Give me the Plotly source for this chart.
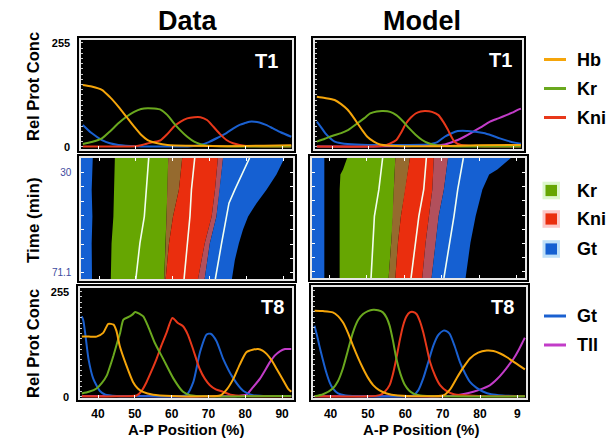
import plotly.graph_objects as go

# ---------------- data ----------------
GENE_COLORS = {"Hb": "#f5a50a", "Kr": "#6aa81e", "Kni": "#e8381a", "Gt": "#1a60d0", "Tll": "#c23cc8"}

# Top row: T1 profiles (A-P position %, relative protein concentration 0-255)
d1_hb_x = [35.6, 38, 40.8, 43, 45.3, 47.5, 49.6, 51.5, 53.3, 56, 58.7, 65, 75, 85, 92.5]
d1_hb_y = [152, 148, 140, 122, 99, 74, 50, 30, 17, 9, 5, 3, 2, 3, 4]
d1_kr_x = [35.6, 38, 40.8, 43, 45.3, 47.5, 49.6, 51.5, 53.3, 55, 56.9, 58.7, 60.5, 62.3, 64.1, 66, 67.7, 70, 80, 92.5]
d1_kr_y = [7, 12, 21, 38, 58, 74, 86, 93, 95, 94, 91, 78, 58, 40, 25, 13, 7, 3, 1, 1]
d1_kni_x = [35.6, 45, 50, 51.5, 53, 55, 56.9, 58.7, 60.5, 62.3, 64.1, 66, 67.7, 69.5, 71.2, 73, 74.8, 76.6, 78.4, 81, 92.5]
d1_kni_y = [1, 1, 2, 4, 8, 12, 17, 32, 50, 62, 70, 73, 73, 66, 50, 32, 17, 9, 5, 2, 1]
d1_gt_x = [35.6, 38, 40.8, 43, 45.3, 50, 60, 65, 67.7, 70, 72.5, 74.8, 76.6, 78.4, 80, 81.1, 82.5, 83.8, 85.6, 87.4, 89.6, 92.5]
d1_gt_y = [54, 34, 17, 9, 5, 2, 1, 2, 5, 12, 23, 34, 45, 54, 59, 62, 62, 60, 54, 46, 36, 25]

m1_hb_x = [35.8, 38, 40.7, 42.5, 44.3, 45.7, 47, 48.4, 49.7, 51.5, 53.2, 56, 60, 70, 80, 92]
m1_hb_y = [123, 120, 115, 105, 91, 75, 58, 40, 25, 13, 6, 3, 2, 2, 4, 5]
m1_kr_x = [35.8, 38, 40, 42.5, 44.5, 47, 48.8, 50.5, 52.3, 54.1, 56, 57.7, 59.5, 61.2, 63, 64.8, 66.6, 68.4, 72, 92]
m1_kr_y = [13, 20, 27, 34, 42, 58, 70, 82, 87, 88, 86, 78, 63, 46, 30, 17, 9, 5, 2, 1]
m1_kni_x = [35.8, 50, 54.1, 55.9, 57.7, 59, 60.4, 61.7, 63, 64.4, 65.7, 67.5, 69.3, 70.6, 71.9, 72.8, 73.7, 75.5, 80, 92]
m1_kni_y = [1, 1, 3, 8, 17, 35, 58, 72, 82, 87, 88, 86, 78, 62, 42, 26, 13, 5, 2, 1]
m1_gt_x = [35.8, 37, 38.1, 39.4, 40.7, 42.5, 44.3, 50, 60, 66, 69, 71, 72.8, 74.6, 76, 77.3, 79.5, 81.7, 84, 86.2, 88.4, 90.6, 92]
m1_gt_y = [62, 48, 34, 22, 13, 9, 7, 5, 5, 6, 12, 25, 33, 39, 40, 39, 37, 34, 28, 21, 15, 10, 8]
m1_tll_x = [35.8, 50, 60, 68, 71, 72.8, 74.6, 76.4, 78.2, 80.9, 83.5, 85.8, 88, 89.6, 91.1, 92]
m1_tll_y = [1, 1, 2, 3, 6, 11, 17, 25, 34, 48, 62, 70, 78, 84, 91, 94]

# Bottom row: T8 profiles
d8_hb_x = [35.6, 37.5, 39.6, 41.4, 42.8, 44.2, 45, 45.9, 47.7, 49.5, 50.8, 52.2, 55, 60, 70, 73.2, 75, 76.8, 78.5, 80.3, 82, 83.5, 84.7, 85.8, 87.2, 88.5, 90, 91.6, 92.5]
d8_hb_y = [146, 146, 146, 155, 177, 175, 160, 123, 76, 36, 20, 12, 5, 2, 1, 3, 18, 44, 78, 108, 114, 116, 112, 104, 88, 68, 45, 20, 12]
d8_kr_x = [35.6, 37.5, 39.6, 41, 42.4, 43.3, 44.2, 45.1, 46, 46.9, 48.6, 49.4, 50.1, 51.2, 52.3, 53.6, 55.4, 57.7, 60.5, 63.1, 65, 70, 80, 92.5]
d8_kr_y = [8, 12, 20, 33, 52, 75, 100, 128, 155, 187, 195, 200, 206, 202, 195, 171, 131, 92, 44, 12, 4, 1, 1, 2]
d8_kni_x = [35.6, 45, 50.5, 51.9, 53.2, 54.5, 55.9, 57.2, 58.6, 60.2, 61.7, 63.1, 64.4, 65.8, 67.6, 69, 70.4, 72, 74, 76, 80, 92.5]
d8_kni_y = [1, 1, 3, 15, 36, 62, 92, 124, 155, 191, 179, 171, 151, 116, 68, 44, 28, 18, 12, 5, 2, 1]
d8_gt_x = [35.6, 36, 36.5, 37.4, 38.7, 40.5, 42, 45, 55, 62, 64.1, 65.9, 67.7, 69.5, 70.6, 72.2, 74, 76.8, 79.5, 82, 85, 92.5]
d8_gt_y = [195, 185, 155, 92, 44, 14, 5, 2, 1, 1, 5, 36, 108, 151, 153, 135, 92, 44, 14, 4, 2, 2]
d8_tll_x = [35.6, 50, 60, 70, 78, 80.3, 82, 84, 86.7, 88, 89.5, 90.8, 92.2, 92.5]
d8_tll_y = [1, 2, 1, 1, 2, 5, 22, 44, 84, 100, 111, 116, 116, 116]

m8_hb_x = [35.7, 38, 40.6, 42, 43.3, 44.6, 46, 47.4, 48.7, 50, 51.4, 53, 55, 58, 65, 70.1, 72, 73.7, 75.5, 77.3, 79.5, 81.8, 83.6, 85.4, 87.2, 89, 90.5, 92]
m8_hb_y = [207, 206, 203, 194, 179, 155, 123, 93, 68, 46, 28, 16, 8, 3, 1, 3, 18, 44, 70, 92, 106, 111, 110, 104, 95, 84, 75, 66]
m8_kr_x = [35.7, 38, 40.6, 42, 43.3, 44.6, 46, 47.4, 48.7, 50, 51.4, 52.7, 54, 55, 55.8, 56.7, 57.6, 58.7, 59.9, 61, 62.1, 64, 70, 92]
m8_kr_y = [1, 6, 20, 38, 68, 110, 155, 185, 199, 206, 209, 208, 203, 190, 171, 135, 92, 55, 28, 15, 8, 3, 1, 1]
m8_kni_x = [35.7, 50, 53.2, 54.5, 55.8, 56.7, 57.6, 58.5, 59.4, 60.3, 61.2, 62.1, 63, 63.9, 64.8, 65.7, 66.6, 68, 69.3, 71, 73, 80, 92]
m8_kni_y = [1, 1, 4, 12, 28, 55, 92, 135, 171, 193, 203, 204, 199, 182, 155, 120, 84, 50, 28, 14, 6, 2, 1]
m8_gt_x = [35.7, 36.3, 37, 37.9, 38.8, 39.7, 40.6, 42, 44, 50, 60, 62.1, 63.5, 64.8, 66.2, 67.5, 68.8, 70.2, 71, 71.9, 73.2, 74.6, 76, 77.3, 79, 80.9, 83, 86, 92]
m8_gt_y = [171, 150, 123, 90, 60, 36, 20, 8, 3, 1, 1, 3, 16, 44, 85, 123, 148, 159, 158, 151, 122, 84, 56, 36, 22, 12, 6, 3, 1]
m8_tll_x = [35.7, 50, 60, 70, 73.7, 76, 78.2, 80.5, 82.7, 84.5, 86.3, 87.6, 89, 90.3, 91.6, 92]
m8_tll_y = [1, 1, 1, 1, 3, 7, 12, 19, 28, 42, 60, 75, 92, 112, 135, 142]

# Middle row: domain boundaries over time (A-P %, time in min)
T_CLASSES = [30.0, 35.87, 41.74, 47.61, 53.49, 59.36, 65.23, 71.1]
band_t = [24, 37, 48, 59, 73.6]

d_gt_ant_left = [30, 30, 30, 30, 30]
d_gt_ant_right = [38.3, 38.0, 38.2, 38.0, 38.1]
d_kr_left = [44.3, 44.1, 43.9, 43.4, 43.2]
d_kr_peak = [53.5, 52.9, 52.3, 51.1, 50.0]
d_kni_left = [58.8, 58.6, 58.3, 58.1, 57.7]
d_kr_right = [62.6, 61.7, 60.1, 59.0, 58.1]
d_kni_peak = [66.0, 65.1, 64.7, 64.0, 63.1]
d_gt_left = [72.3, 71.5, 70.6, 68.7, 66.9]
d_kni_right = [73.7, 72.8, 71.9, 70.1, 68.7]
d_gt_peak_t = [24, 30.8, 37, 42.5, 48, 58.9, 73.6]
d_gt_peak = [80.9, 78.7, 76.9, 75.3, 74.6, 73.3, 71.6]
d_gt_right_t = [24, 30.8, 37, 42.5, 48, 53.4, 58.9, 65.8, 73.6]
d_gt_right = [90.4, 88.2, 85.5, 82.8, 80.5, 79.1, 78.0, 76.9, 76.1]

m_gt_ant_left = [30, 30, 30, 30, 30]
m_gt_ant_right = [38.6, 38.6, 38.6, 38.6, 38.6]
m_kr_left_t = [24, 28.8, 30.8, 37, 48, 73.6]
m_kr_left = [44.7, 43.6, 42.9, 42.7, 42.7, 42.7]
m_kr_peak = [54.2, 53.2, 52.0, 51.6, 51.1]
m_kni_left = [57.6, 57.2, 57.0, 56.5, 55.8]
m_kr_right = [61.5, 60.3, 59.1, 58.3, 57.6]
m_kni_peak = [65.9, 65.2, 63.9, 63.0, 61.8]
m_gt_left = [67.9, 67.5, 66.6, 65.7, 64.8]
m_kni_right = [71.7, 70.6, 69.2, 68.4, 67.3]
m_gt_peak = [75.8, 74.3, 73.3, 72.1, 70.6]
m_gt_right_t = [24, 28.8, 30.8, 37, 48, 59, 73.6]
m_gt_right = [88.5, 84.9, 82.7, 80.9, 79.1, 77.7, 76.4]

BAND_COLORS = {"Kr": "#66a602", "KrKni": "#956a2e", "Kni": "#ea2e0e",
               "KniGt": "#b2505c", "Gt": "#1560d2"}

X_TICKS = [40, 50, 60, 70, 80, 90]
X_TEXT_DATA = ["40", "50", "60", "70", "80", "90"]
X_TEXT_MODEL = ["40", "50", "60", "70", "80", "9"]

# ---------------- layout helpers ----------------
W, H = 615, 444
FONT = "Arial, Liberation Sans, sans-serif"


def px(x):
    return x / W


def py(y):
    return 1 - y / H


# frame pixel boxes: left, right, top, bottom
FRAMES = {
    1: (81, 292, 40, 149),
    2: (315, 522, 40, 149),
    3: (81, 293, 158, 279),
    4: (312, 525, 158, 278),
    5: (80, 292, 288, 398),
    6: (313, 526, 287, 398),
}
DATA_XR = [35.1, 92.7]
MODEL_XR = [35.3, 92.3]

fig = go.Figure()


def ax(n):
    return ("x" if n == 1 else f"x{n}"), ("y" if n == 1 else f"y{n}")


def add_curve(n, xs, ys, gene):
    xa, ya = ax(n)
    fig.add_trace(go.Scatter(x=xs, y=ys, mode="lines", xaxis=xa, yaxis=ya,
                             line=dict(color=GENE_COLORS[gene], width=2, shape="spline", smoothing=0.6),
                             showlegend=False, hoverinfo="skip"))


add_curve(1, d1_gt_x, d1_gt_y, "Gt")
add_curve(1, d1_kni_x, d1_kni_y, "Kni")
add_curve(1, d1_kr_x, d1_kr_y, "Kr")
add_curve(1, d1_hb_x, d1_hb_y, "Hb")

add_curve(2, m1_tll_x, m1_tll_y, "Tll")
add_curve(2, m1_gt_x, m1_gt_y, "Gt")
add_curve(2, m1_kni_x, m1_kni_y, "Kni")
add_curve(2, m1_kr_x, m1_kr_y, "Kr")
add_curve(2, m1_hb_x, m1_hb_y, "Hb")

add_curve(5, d8_tll_x, d8_tll_y, "Tll")
add_curve(5, d8_gt_x, d8_gt_y, "Gt")
add_curve(5, d8_kni_x, d8_kni_y, "Kni")
add_curve(5, d8_kr_x, d8_kr_y, "Kr")
add_curve(5, d8_hb_x, d8_hb_y, "Hb")

add_curve(6, m8_tll_x, m8_tll_y, "Tll")
add_curve(6, m8_gt_x, m8_gt_y, "Gt")
add_curve(6, m8_kni_x, m8_kni_y, "Kni")
add_curve(6, m8_kr_x, m8_kr_y, "Kr")
add_curve(6, m8_hb_x, m8_hb_y, "Hb")


def add_band(n, lt, lx, rt, rx, color):
    xa, ya = ax(n)
    xs = list(lx) + list(rx)[::-1]
    ys = list(lt) + list(rt)[::-1]
    fig.add_trace(go.Scatter(x=xs + [xs[0]], y=ys + [ys[0]], mode="lines", fill="toself",
                             fillcolor=color, line=dict(width=0, color=color),
                             xaxis=xa, yaxis=ya, showlegend=False, hoverinfo="skip"))


def add_peak(n, t, x):
    xa, ya = ax(n)
    fig.add_trace(go.Scatter(x=x, y=t, mode="lines", line=dict(color="#f2fff0", width=1.6),
                             xaxis=xa, yaxis=ya, showlegend=False, hoverinfo="skip"))


# Data middle
add_band(3, band_t, d_gt_ant_left, band_t, d_gt_ant_right, BAND_COLORS["Gt"])
add_band(3, band_t, d_kr_left, band_t, d_kni_left, BAND_COLORS["Kr"])
add_band(3, band_t, d_kni_left, band_t, d_kr_right, BAND_COLORS["KrKni"])
add_band(3, band_t, d_kr_right, band_t, d_gt_left, BAND_COLORS["Kni"])
add_band(3, band_t, d_gt_left, band_t, d_kni_right, BAND_COLORS["KniGt"])
add_band(3, band_t, d_kni_right, d_gt_right_t, d_gt_right, BAND_COLORS["Gt"])
add_peak(3, band_t, d_kr_peak)
add_peak(3, band_t, d_kni_peak)
add_peak(3, d_gt_peak_t, d_gt_peak)

# Model middle
add_band(4, band_t, m_gt_ant_left, band_t, m_gt_ant_right, BAND_COLORS["Gt"])
add_band(4, m_kr_left_t, m_kr_left, band_t, m_kni_left, BAND_COLORS["Kr"])
add_band(4, band_t, m_kni_left, band_t, m_kr_right, BAND_COLORS["KrKni"])
add_band(4, band_t, m_kr_right, band_t, m_gt_left, BAND_COLORS["Kni"])
add_band(4, band_t, m_gt_left, band_t, m_kni_right, BAND_COLORS["KniGt"])
add_band(4, band_t, m_kni_right, m_gt_right_t, m_gt_right, BAND_COLORS["Gt"])
add_peak(4, band_t, m_kr_peak)
add_peak(4, band_t, m_kni_peak)
add_peak(4, band_t, m_gt_peak)

layout = dict(width=W, height=H, margin=dict(l=0, r=0, t=0, b=0, pad=0, autoexpand=False),
              paper_bgcolor="white", plot_bgcolor="black", showlegend=False,
              font=dict(family=FONT, color="black"))

shapes = []
annotations = []
FRAME_COL = "#e6e6e6"

for n, (l, r, t, b) in FRAMES.items():
    xa_name = "xaxis" if n == 1 else f"xaxis{n}"
    ya_name = "yaxis" if n == 1 else f"yaxis{n}"
    xr = DATA_XR if n % 2 == 1 else MODEL_XR
    xa_ref, ya_ref = ax(n)
    xaxis = dict(domain=[px(l), px(r)], range=xr, anchor=ya_ref, showgrid=False, zeroline=False,
                 showline=True, linecolor=FRAME_COL, linewidth=1.6, mirror=True,
                 ticks="inside", tickvals=X_TICKS, ticklen=3, tickcolor="white", tickwidth=1,
                 showticklabels=False, fixedrange=True)
    if n in (5, 6):
        xaxis.update(showticklabels=True, ticktext=X_TEXT_DATA if n == 5 else X_TEXT_MODEL,
                     tickfont=dict(size=12, family=FONT, color="black", weight="bold"),
                     ticklabelstandoff=4)
    if n in (3, 4):
        xaxis.update(mirror="ticks")
    yaxis = dict(domain=[py(b), py(t)], anchor=xa_ref, showgrid=False, zeroline=False,
                 showline=True, linecolor=FRAME_COL, linewidth=1.6, mirror=True, fixedrange=True)
    if n in (3, 4):
        yaxis.update(range=[73.6, 24], tickvals=T_CLASSES, ticks="inside", ticklen=3,
                     tickcolor="white", mirror="ticks",
                     ticktext=["30", "", "", "", "", "", "", "71.1"],
                     showticklabels=(n == 3),
                     tickfont=dict(size=10, family=FONT, color="#3d4aa0"),
                     ticklabelstandoff=6)
    else:
        yr = [-5, 262] if n in (1, 2) else [-3, 264]
        yaxis.update(range=yr, tickvals=[0, 255], ticktext=["0", "255"], ticks="",
                     showticklabels=(n in (1, 5)),
                     tickfont=dict(size=11, family=FONT, color="black", weight="bold"),
                     ticklabelstandoff=7,
                     minor=dict(ticks="inside", dtick=12.75, ticklen=2, tickcolor="#cccccc", tickwidth=1))
    layout[xa_name] = xaxis
    layout[ya_name] = yaxis
    # outer black box
    shapes.append(dict(type="rect", xref="paper", yref="paper", layer="below",
                       x0=px(l - 4), x1=px(r + 4), y0=py(b + 4), y1=py(t - 4),
                       fillcolor="black", line=dict(width=0)))


def note(text, x, y, size, color="black", bold=True, angle=0, xanchor="center"):
    annotations.append(dict(text=text, x=px(x), y=py(y), xref="paper", yref="paper", showarrow=False,
                            xanchor=xanchor, yanchor="middle", textangle=angle,
                            font=dict(size=size, family=FONT, color=color,
                                      weight="bold" if bold else "normal")))


# Column titles
note("Data", 188, 21, 27)
note("Model", 422, 21, 27)

# Time class labels inside panels
for txt, x, y in [("T1", 266, 61), ("T1", 500, 60), ("T8", 272, 307), ("T8", 502, 307)]:
    note(txt, x, y, 20, color="white")

# Axis titles
note("Rel Prot Conc", 33, 87, 16.5, angle=-90)
note("Time (min)", 33, 220, 17, angle=-90)
note("Rel Prot Conc", 33, 344, 16.5, angle=-90)
for x in (186, 421):
    note("A-P Position (%)", x, 429, 15)

# Legends (keys drawn as shapes)
LEG_TOP = [("Hb", 59.5), ("Kr", 88.5), ("Kni", 117.5)]
LEG_MID = [("Kr", 190.5), ("Kni", 219), ("Gt", 249)]
LEG_BOT = [("Gt", 316), ("Tll", 345)]
PALE = {"Kr": "#dcf7cc", "Kni": "#fcc8c8", "Gt": "#bfe0f8"}

for name, y in LEG_TOP + LEG_BOT:
    shapes.append(dict(type="line", xref="paper", yref="paper", x0=px(544), x1=px(566), y0=py(y), y1=py(y),
                       line=dict(color=GENE_COLORS[name], width=3)))
    note(name, 575, y, 18, xanchor="left")
for name, y in LEG_MID:
    shapes.append(dict(type="rect", xref="paper", yref="paper", x0=px(542.5), x1=px(560), y0=py(y + 8.8),
                       y1=py(y - 8.8), fillcolor=PALE[name], line=dict(width=0)))
    shapes.append(dict(type="rect", xref="paper", yref="paper", x0=px(545.5), x1=px(557), y0=py(y + 5.6),
                       y1=py(y - 5.6), fillcolor=BAND_COLORS[name], line=dict(width=0)))
    note(name, 575, y, 18, xanchor="left")

layout["shapes"] = shapes
layout["annotations"] = annotations
fig.update_layout(**layout)
fig.write_html("out.html", config={"displayModeBar": False, "staticPlot": True},
               post_script="document.body.style.margin='0';document.body.style.overflow='hidden';")
